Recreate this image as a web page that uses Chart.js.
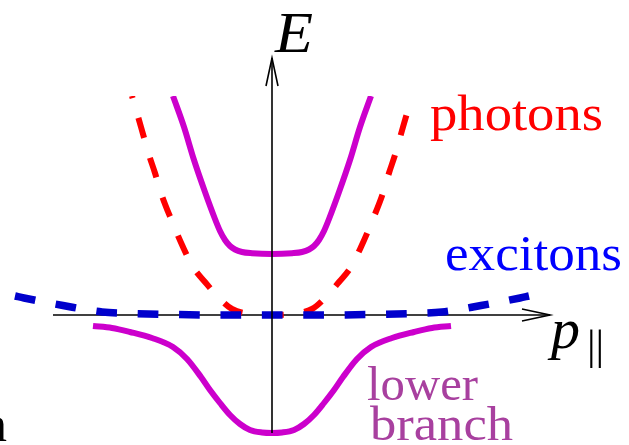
<!DOCTYPE html>
<html>
<head>
<meta charset="utf-8">
<title>Polariton dispersion</title>
<script src="https://cdn.jsdelivr.net/npm/chart.js@4.4.0/dist/chart.umd.min.js"></script>
<style>
  html, body { margin: 0; padding: 0; background: #fff; }
  #wrap { width: 629px; height: 445px; }
</style>
</head>
<body>
<div id="wrap"><canvas id="disp" width="629" height="445"></canvas></div>
<script>
// momentum p (arbitrary units) and energy E for each branch
const photonP = [-140, -131, -123, -117, -111, -101, -89, -79, -67, -53, -40, -20, 0, 20, 40, 53, 67, 79, 89, 101, 111, 117, 123, 131, 140];
const photonE = [219, 188, 160, 142, 122, 96, 68, 48, 33, 17, 6, 1, 0, 1, 6, 17, 33, 48, 68, 96, 122, 142, 160, 188, 219];

const excitonP = [-257, -248, -209, -170, -140, -100, -50, 0, 50, 100, 140, 170, 209, 248, 257];
const excitonE = [19, 17, 9.5, 3, 1.5, 0.5, 0, 0, 0, 0.5, 1.5, 3, 9.5, 17, 19];

const upperP = [-99, -88, -78, -67, -57, -52, -47, -42, -37, -30, -20, 0, 20, 30, 37, 42, 47, 52, 57, 67, 78, 88, 99];
const upperE = [219, 188, 155, 123, 96, 84, 75, 69, 65.5, 63, 61.8, 61, 61.8, 63, 65.5, 69, 75, 84, 96, 123, 155, 188, 219];

const lowerP = [-179, -160, -142, -120, -99, -85, -71, -62, -52, -42, -32, -22, -10, 0, 10, 22, 32, 42, 52, 62, 71, 85, 99, 120, 142, 160, 179];
const lowerE = [-11, -13, -17, -23, -32, -44, -62, -75, -88, -100, -109, -115, -117.5, -118, -117.5, -115, -109, -100, -88, -75, -62, -44, -32, -23, -17, -13, -11];

// extent of the two axis arrows
const axisP = [-219, 278];
const axisE = [-118, 257];

const SERIF = '"Liberation Serif"';

function pts(ps, es) {
  return ps.map((p, i) => ({ x: p, y: es[i] }));
}

function curve(label, ps, es, color, width, dash, order, dashOffset) {
  return {
    label: label,
    data: pts(ps, es),
    borderColor: color,
    borderWidth: width,
    borderDash: dash || [],
    borderDashOffset: dashOffset || 0,
    pointRadius: 0,
    fill: false,
    cubicInterpolationMode: 'monotone',
    order: order
  };
}

// text drawn stretched to a given width (the labels are set wider than Liberation Serif)
function stretchText(ctx, text, x, y, font, color, width) {
  ctx.save();
  ctx.font = font;
  ctx.fillStyle = color;
  ctx.textBaseline = 'alphabetic';
  ctx.textAlign = 'left';
  const w = ctx.measureText(text).width;
  ctx.translate(x, y);
  if (width) ctx.scale(width / w, 1);
  ctx.fillText(text, 0, 0);
  ctx.restore();
}

function arrowHead(ctx, x, y, dx, dy) {
  // open "->" head, dx/dy is the direction of the arrow
  const len = 28, half = 6;
  const nx = -dy, ny = dx;
  ctx.beginPath();
  ctx.moveTo(x - dx * len + nx * half, y - dy * len + ny * half);
  ctx.lineTo(x, y);
  ctx.lineTo(x - dx * len - nx * half, y - dy * len - ny * half);
  ctx.stroke();
}

const horizontalAxis = {
  id: 'horizontalAxis',
  beforeDatasetsDraw(chart) {
    const ctx = chart.ctx;
    const xs = chart.scales.x, ys = chart.scales.y;
    const y0 = ys.getPixelForValue(0);
    const x1 = xs.getPixelForValue(axisP[0]);
    const x2 = xs.getPixelForValue(axisP[1]);
    ctx.save();
    ctx.strokeStyle = '#000';
    ctx.lineWidth = 1.6;
    ctx.beginPath();
    ctx.moveTo(x1, y0);
    ctx.lineTo(x2, y0);
    ctx.stroke();
    arrowHead(ctx, x2, y0, 1, 0);
    ctx.restore();
  }
};

const verticalAxisAndLabels = {
  id: 'verticalAxisAndLabels',
  afterDatasetsDraw(chart) {
    const ctx = chart.ctx;
    const xs = chart.scales.x, ys = chart.scales.y;
    const x0 = xs.getPixelForValue(0);
    const y1 = ys.getPixelForValue(axisE[0]);
    const y2 = ys.getPixelForValue(axisE[1]);
    ctx.save();
    ctx.strokeStyle = '#000';
    ctx.lineWidth = 1.6;
    ctx.beginPath();
    ctx.moveTo(x0, y1);
    ctx.lineTo(x0, y2);
    ctx.stroke();
    arrowHead(ctx, x0, y2, 0, -1);
    ctx.restore();

    stretchText(ctx, 'E', x0 + 3, y2 - 6, 'italic 57px ' + SERIF, '#000', 38);
    stretchText(ctx, 'p', 551, 348, 'italic 58px ' + SERIF, '#000');
    stretchText(ctx, '||', 587, 359, '43px ' + SERIF, '#000');
    stretchText(ctx, 'photons', 430, 130, '50px ' + SERIF, '#ff0000', 173);
    stretchText(ctx, 'excitons', 445, 270, '50px ' + SERIF, '#0000ff', 177);
    stretchText(ctx, 'lower', 367, 400, '48px ' + SERIF, '#a8409f', 111);
    stretchText(ctx, 'branch', 370, 440, '48px ' + SERIF, '#a8409f', 143);
    stretchText(ctx, 'n', -18, 441, '50px ' + SERIF, '#000');
  }
};

new Chart(document.getElementById('disp'), {
  type: 'line',
  data: {
    datasets: [
      curve('excitons', excitonP, excitonE, '#0000cc', 7.5, [20.7, 20.7], 1),
      curve('photons', photonP, photonE, '#ff0000', 6, [20.7, 20.7], 2, 18.5),
      curve('upper branch', upperP, upperE, '#cc00cc', 6, null, 3),
      curve('lower branch', lowerP, lowerE, '#cc00cc', 6, null, 4)
    ]
  },
  options: {
    responsive: false,
    animation: false,
    events: [],
    layout: { padding: { top: 96, left: 0, right: 0, bottom: 0 } },
    plugins: {
      legend: { display: false },
      tooltip: { enabled: false }
    },
    scales: {
      x: { type: 'linear', min: -272, max: 357, display: false },
      y: { type: 'linear', min: -130, max: 219, display: false }
    }
  },
  plugins: [horizontalAxis, verticalAxisAndLabels]
});
</script>
</body>
</html>
